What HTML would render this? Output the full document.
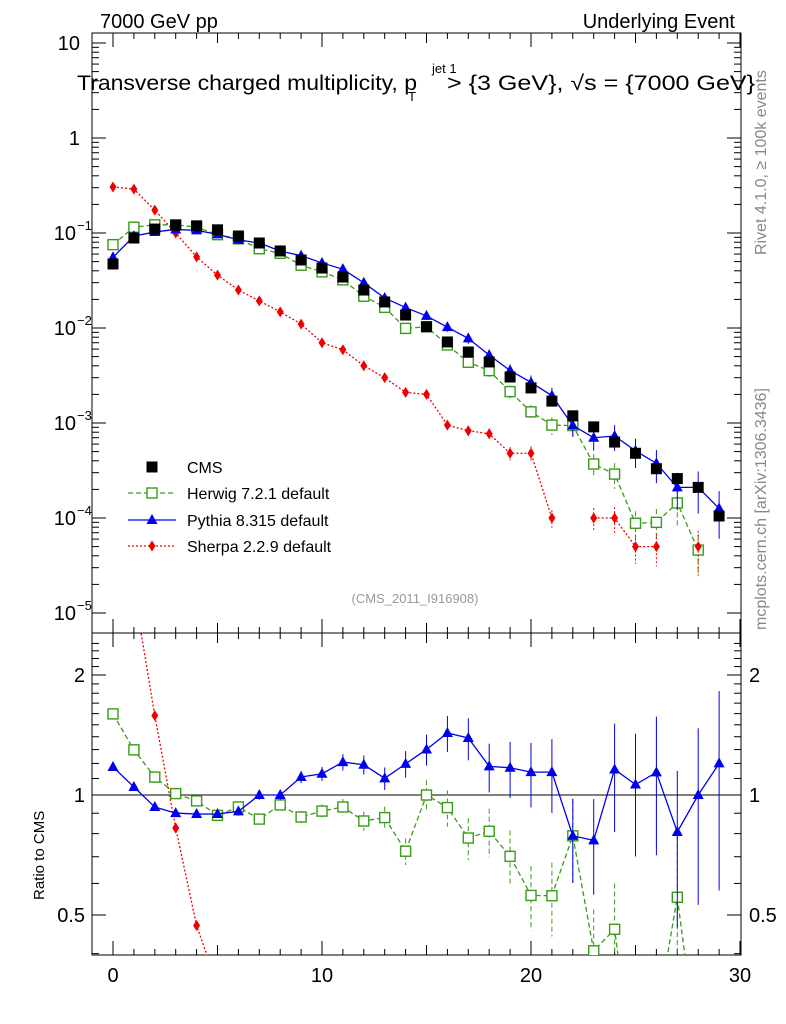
<!DOCTYPE html>
<html><head><meta charset="utf-8"><style>
html,body{margin:0;padding:0;background:#fff;width:786px;height:1024px;overflow:hidden}
svg{display:block;font-family:"Liberation Sans",sans-serif}
</style></head><body>
<svg id="c" width="786" height="1024"></svg>
<script>
const mult=[0,1,2,3,4,5,6,7,8,9,10,11,12,13,14,15,16,17,18,19,20,21,22,23,24,25,26,27,28,29];
const cms=[0.0472,0.0886,0.110,0.121,0.119,0.108,0.093,0.0785,0.0647,0.052,0.0428,0.0344,0.0251,0.0188,0.0137,0.0103,0.00713,0.00559,0.00439,0.00305,0.00234,0.0017,0.00119,0.00091,0.00063,0.00048,0.00033,0.00026,0.00021,0.000105];
const herwig=[0.0754,0.115,0.122,0.122,0.115,0.096,0.0868,0.0683,0.0611,0.0458,0.039,0.0321,0.0216,0.0165,0.0099,0.0103,0.00663,0.00436,0.00356,0.00214,0.00131,0.00095,0.00094,0.00037,0.00029,0.000088,0.00009,0.000144,0.000046,null];
const pythia=[0.0555,0.0928,0.1026,0.109,0.1066,0.0968,0.0846,0.0785,0.0647,0.0577,0.0484,0.0416,0.0299,0.0207,0.0164,0.0134,0.0102,0.00777,0.00518,0.00357,0.00267,0.00194,0.00094,0.0007,0.00073,0.00051,0.000376,0.00021,0.00021,0.000126];
const sherpa=[0.305,0.29,0.174,0.1,0.056,0.036,0.0251,0.0193,0.0148,0.011,0.007,0.0059,0.004,0.003,0.0021,0.002,0.00095,0.00083,0.00077,0.00048,0.00048,0.0001,null,0.0001,0.0001,0.00005,0.00005,null,0.00005,null];
const yTicks=[10,1,0.1,0.01,0.001,0.0001,0.00001];
const yTickLabels=["10","1","10","10","10","10","10"];
const yTickExp=["","","−1","−2","−3","−4","−5"];
const xTicks=[0,10,20,30];
const rTicks=[2,1,0.5];

const S=document.getElementById('c');const NS='http://www.w3.org/2000/svg';
function el(t,a,p){const e=document.createElementNS(NS,t);for(const k in a)e.setAttribute(k,a[k]);(p||S).appendChild(e);return e;}
const X0=92,X1=741,Y0=33,YM=633,YB=955;
const xs=v=>113+v*20.9;
const ys=v=>138-95*Math.log10(v);
const rs=v=>795-120*Math.log2(v);

let f=el('rect',{x:X0,y:Y0,width:X1-X0,height:YM-Y0,fill:'none',stroke:'#000'});

f=el('rect',{x:X0,y:YM,width:X1-X0,height:YB-YM,fill:'none',stroke:'#000'});

for(let d=-5;d<=1;d++){for(let m=1;m<10;m++){const v=m*Math.pow(10,d);const y=ys(v);if(y<Y0||y>YM)continue;const L=m==1?14:7;
el('line',{x1:X0,x2:X0+L,y1:y,y2:y,stroke:'#000'});el('line',{x1:X1,x2:X1-L,y1:y,y2:y,stroke:'#000'});}}
yTicks.forEach((v,i)=>{const hasE=!!yTickExp[i];const t=el('text',{x:hasE?76:80,y:ys(v)+7,'font-size':20,'text-anchor':'end'});t.textContent=yTickLabels[i];

if(hasE){const e=el('text',{x:77,y:ys(v)-3,'font-size':13});e.textContent=yTickExp[i];}});
for(let v=0;v<=30;v++){const x=xs(v);const L=v%10==0?14:(v%5==0?10:6);
el('line',{x1:x,x2:x,y1:YB,y2:YB-L,stroke:'#000'});el('line',{x1:x,x2:x,y1:Y0,y2:Y0+L,stroke:'#000'});el('line',{x1:x,x2:x,y1:YM,y2:YM+L,stroke:'#000'});el('line',{x1:x,x2:x,y1:YM,y2:YM-L,stroke:'#000'});}
xTicks.forEach(v=>{const t=el('text',{x:xs(v),y:982,'font-size':20,'text-anchor':'middle'});t.textContent=v;
});
for(let v=0.4;v<=2.5;v+=0.1){const y=rs(v);if(y<YM||y>YB)continue;const big=[0.5,1,2].some(q=>Math.abs(q-v)<1e-6);const L=big?14:7;
el('line',{x1:X0,x2:X0+L,y1:y,y2:y,stroke:'#000'});el('line',{x1:X1,x2:X1-L,y1:y,y2:y,stroke:'#000'});}
rTicks.forEach(v=>{const y=rs(v)+7;let t=el('text',{x:85,y:y,'font-size':20,'text-anchor':'end'});t.textContent=v;

t=el('text',{x:749,y:y,'font-size':20});t.textContent=v;});
el('line',{x1:X0,x2:X1,y1:rs(1),y2:rs(1),stroke:'#000'});

function tx(x,y,s,txt,name,extra){const t=el('text',Object.assign({x:x,y:y,'font-size':s},extra||{}));t.textContent=txt;return t;}
tx(100,28,20,'7000 GeV pp','energy-label');
tx(735,28,20,'Underlying Event','process-label',{'text-anchor':'end'});
tx(77,90,21,'Transverse charged multiplicity, p','plot-title',{textLength:340,lengthAdjust:'spacingAndGlyphs'});
tx(432,73,13,'jet 1','title-superscript');tx(408,101,13,'T','title-subscript');
tx(447,90,21,'> {3 GeV}, √s = {7000 GeV}','plot-title-rest',{textLength:308,lengthAdjust:'spacingAndGlyphs'});
tx(415,603,13,'(CMS_2011_I916908)','analysis-id',{'text-anchor':'middle',fill:'#999'});
tx(0,0,16,'Rivet 4.1.0, ≥ 100k events','rivet-version',{transform:'translate(766,255) rotate(-90)',fill:'#888'});
tx(0,0,16,'mcplots.cern.ch [arXiv:1306.3436]','mcplots-label',{transform:'translate(766,630) rotate(-90)',fill:'#888'});
tx(0,0,15,'Ratio to CMS','ratio-y-title',{transform:'translate(44,900) rotate(-90)'});

const defs=el('defs',{});
let cp=el('clipPath',{id:'cm'},defs);el('rect',{x:X0,y:Y0,width:X1-X0,height:YM-Y0},cp);
cp=el('clipPath',{id:'cr'},defs);el('rect',{x:X0,y:YM,width:X1-X0,height:YB-YM},cp);
const gm=el('g',{'clip-path':'url(#cm)'});const gr=el('g',{'clip-path':'url(#cr)'});

function marker(g,type,x,y,col,name){let m;
if(type=='sq')m=el('rect',{x:x-5.5,y:y-5.5,width:11,height:11,fill:col},g);
else if(type=='osq')m=el('rect',{x:x-5,y:y-5,width:10,height:10,fill:'#fff',stroke:col,'stroke-width':1.4},g);
else if(type=='tri')m=el('polygon',{points:`${x},${y-6} ${x-5.5},${y+4} ${x+5.5},${y+4}`,fill:col},g);
else m=el('polygon',{points:`${x},${y-5.5} ${x-3.5},${y} ${x},${y+5.5} ${x+3.5},${y}`,fill:col},g);
}
function series(vals,col,dash,type,name){
 let d='';let pen=false;vals.forEach((v,i)=>{if(v==null||v<=0){pen=false;return;}d+=(pen?'L':'M')+xs(mult[i])+','+ys(v);pen=true;});
 el('path',{d:d,fill:'none',stroke:col,'stroke-width':1.3,'stroke-dasharray':dash},gm);
 let r='';pen=false;vals.forEach((v,i)=>{if(v==null){pen=false;return;}const q=v/cms[i];r+=(pen?'L':'M')+xs(mult[i])+','+rs(q);pen=true;});
 el('path',{d:r,fill:'none',stroke:col,'stroke-width':1.3,'stroke-dasharray':dash},gr);
 vals.forEach((v,i)=>{if(v==null)return;const rel=0.02+0.5*Math.pow(i/29,3);
  const x=xs(mult[i]);
  el('line',{x1:x,x2:x,y1:ys(v*(1+rel)),y2:ys(Math.max(v*(1-rel),1e-7)),stroke:col,'stroke-dasharray':dash},gm);
  const q=v/cms[i];el('line',{x1:x,x2:x,y1:rs(q*(1+rel)),y2:rs(Math.max(q*(1-rel),0.01)),stroke:col,'stroke-dasharray':dash},gr);
  marker(gm,type,x,ys(v),col,name+'-point');marker(gr,type,x,rs(q),col,name+'-ratio-point');});
}
series(herwig,'#3a9a1a','5,3','osq','herwig');
series(sherpa,'#ee0000','2,2','dia','sherpa');
series(pythia,'#0000ee','','tri','pythia');
cms.forEach((v,i)=>marker(gm,'sq',xs(mult[i]),ys(v),'#000','cms-point'));

const lg=[['CMS','#000','','sq'],['Herwig 7.2.1 default','#3a9a1a','5,3','osq'],['Pythia 8.315 default','#0000ee','','tri'],['Sherpa 2.2.9 default','#ee0000','2,2','dia']];
const ly=[467,493,520,546];
lg.forEach((l,i)=>{const g=el('g',{});
 if(i>0)el('line',{x1:128,x2:176,y1:ly[i],y2:ly[i],stroke:l[1],'stroke-dasharray':l[2],'stroke-width':1.3},g);
 marker(g,l[3],152,ly[i],l[1],'legend-marker');
 const t=el('text',{x:187,y:ly[i]+6,'font-size':16},g);t.textContent=l[0];});
</script>
</body></html>
